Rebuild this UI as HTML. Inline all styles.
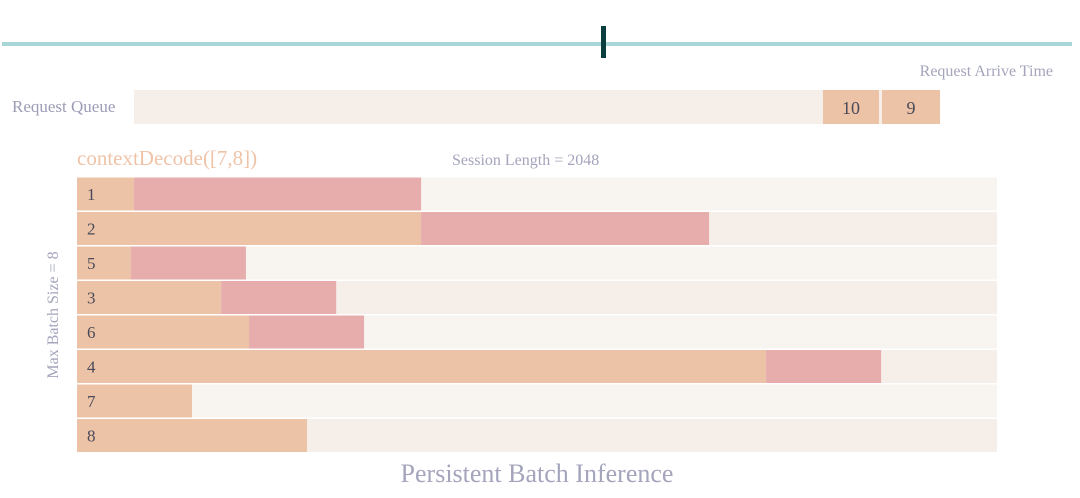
<!DOCTYPE html>
<html><head><meta charset="utf-8"><style>
body{margin:0;width:1080px;height:493px;background:#fff;overflow:hidden;font-family:"Liberation Serif",serif;}
</style></head><body>
<svg width="1080" height="493" xmlns="http://www.w3.org/2000/svg">
<rect x="2" y="42" width="1070" height="4" fill="#a9d6d6"/>
<rect x="601" y="26" width="5" height="32" fill="#0b3f3f"/>
<text x="1053" y="76" text-anchor="end" font-size="16" fill="#a4a4bc">Request Arrive Time</text>
<text x="12" y="112" font-size="17" fill="#9c9cb6">Request Queue</text>
<rect x="134" y="90" width="806" height="34" fill="#f6eee8"/>
<rect x="823" y="90" width="56" height="34" fill="#ecc3a7"/>
<text x="851" y="114" text-anchor="middle" font-size="18" fill="#4a4a58">10</text>
<rect x="882" y="90" width="58" height="34" fill="#ecc3a7"/>
<text x="911" y="114" text-anchor="middle" font-size="18" fill="#4a4a58">9</text>
<text x="77" y="165" font-size="21" fill="#efc3a8">contextDecode([7,8])</text>
<text x="452" y="165" font-size="16" fill="#a4a4bc">Session Length = 2048</text>
<text transform="translate(58,315) rotate(-90)" text-anchor="middle" font-size="16" fill="#a4a4bc">Max Batch Size = 8</text>
<text x="537" y="482" text-anchor="middle" font-size="26" fill="#a4a4bc">Persistent Batch Inference</text>
<g id="rows"></g>
</svg>
<script>
const requestIds=["1","2","5","3","6","4","7","8"];
const contextEnd=[127,766,120,321,383,1534,256,512];
const decodeEnd=[766,1407,376,577,639,1790,256,512];
const sessionLength=2048;
const X0=77,X1=997,Y0=177,RH=34.5;
function xs(v){return X0+(X1-X0)*v/sessionLength;}
const NS="http://www.w3.org/2000/svg";
const g=document.getElementById('rows');
function rect(x,y,w,h,f){const r=document.createElementNS(NS,'rect');r.setAttribute('x',x);r.setAttribute('y',y);r.setAttribute('width',Math.max(0,w));r.setAttribute('height',h);r.setAttribute('fill',f);g.appendChild(r);return r;}
requestIds.forEach((id,i)=>{
 const y=Y0+i*RH+0.5,h=RH-1.5;
 const bg=rect(X0,y,X1-X0,h,i%2?'#f6eee8':'#f8f4f0');
 
 
 const c=rect(X0,y,xs(contextEnd[i])-X0,h,'#ecc3a7');
 
 
 const d=rect(xs(contextEnd[i]),y,xs(decodeEnd[i])-xs(contextEnd[i]),h,'#e6adac');
 
 
 const t=document.createElementNS(NS,'text');
 t.setAttribute('x',87);t.setAttribute('y',y+h/2+6);t.setAttribute('font-size','17');t.setAttribute('fill','#4a4a58');
 t.textContent=id;
 
 
 g.appendChild(t);
});
</script>
</body></html>
